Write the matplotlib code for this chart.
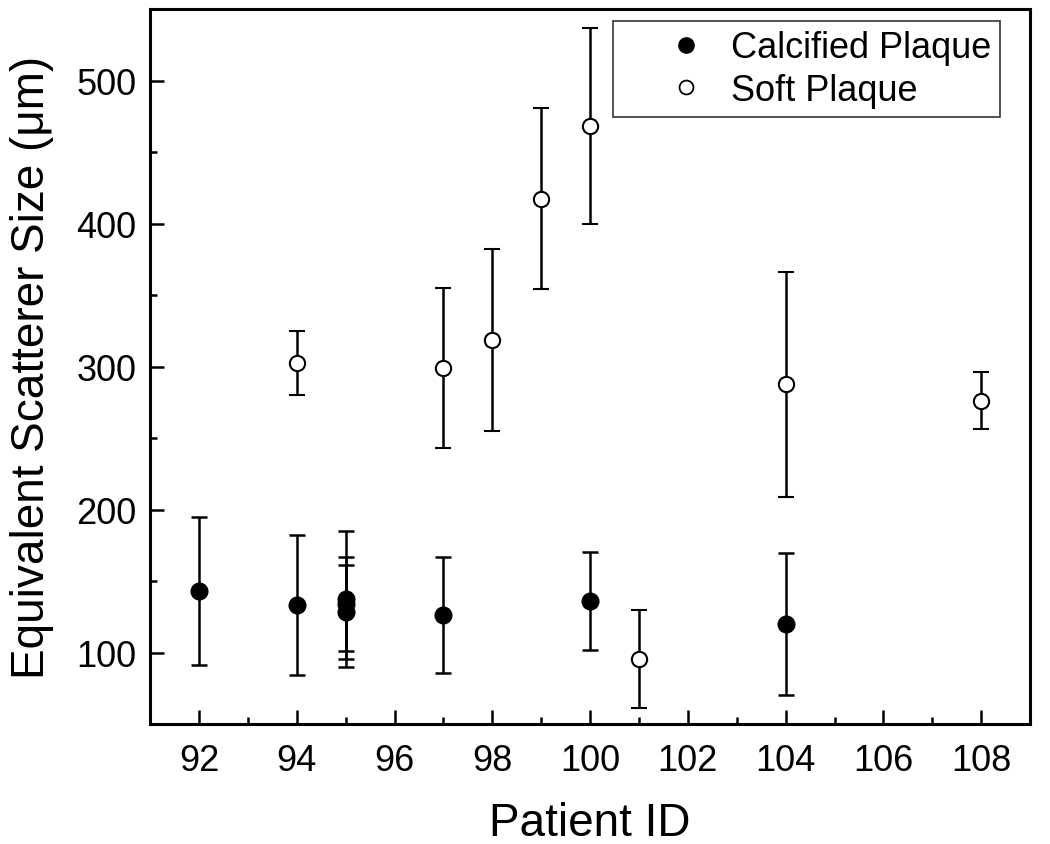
import matplotlib
matplotlib.use("Agg")
import matplotlib.pyplot as plt
from matplotlib.lines import Line2D
from matplotlib.ticker import MultipleLocator

plt.rcParams['font.family'] = ['Liberation Sans', 'DejaVu Sans']

# calcified plaque: patient id, mean size, error
calc_id = [92, 94, 95, 95, 95, 97, 100, 104]
calc_size = [143, 133, 137.5, 134, 128.5, 126.5, 136, 120]
calc_err = [51.5, 49, 47.5, 33, 33, 40.5, 34, 49.5]

# soft plaque
soft_id = [94, 97, 98, 99, 100, 101, 104, 108]
soft_size = [302.5, 299, 318.5, 417.5, 468.5, 95.5, 287.5, 276]
soft_err = [22.5, 56, 63.5, 63.5, 68.5, 34.5, 78.5, 20]

fig = plt.figure(figsize=(10.5, 8.45), dpi=100)
ax = fig.add_axes([0.143, 0.142, 0.838, 0.846])

ax.errorbar(calc_id, calc_size, yerr=calc_err, fmt='o', color='black',
            markersize=12, elinewidth=1.8, capsize=6, capthick=1.8)
ax.errorbar(soft_id, soft_size, yerr=soft_err, fmt='o', color='black',
            markerfacecolor='white', markeredgewidth=1.5, markersize=11,
            elinewidth=1.8, capsize=6, capthick=1.8)

ax.set_xlim(91, 109)
ax.set_ylim(50, 550)
ax.xaxis.set_major_locator(MultipleLocator(2))
ax.xaxis.set_minor_locator(MultipleLocator(1))
ax.yaxis.set_major_locator(MultipleLocator(100))
ax.yaxis.set_minor_locator(MultipleLocator(50))
ax.tick_params(which='both', direction='in', width=1.8, labelsize=26)
ax.tick_params(axis='x', pad=14)
ax.tick_params(axis='y', pad=10)
ax.tick_params(which='major', length=10)
ax.tick_params(which='minor', length=5)
for s in ax.spines.values():
    s.set_linewidth(2.2)

ax.set_xlabel('Patient ID', fontsize=33, labelpad=16)
ax.set_ylabel('Equivalent Scatterer Size (μm)', fontsize=33, labelpad=16)

handles = [
    Line2D([], [], linestyle='none', marker='o', color='black', markersize=11),
    Line2D([], [], linestyle='none', marker='o', color='black',
           markerfacecolor='white', markeredgewidth=1.3, markersize=10),
]
leg = ax.legend(handles, ['Calcified Plaque', 'Soft Plaque'],
                loc='upper right', bbox_to_anchor=(0.966, 0.983),
                borderaxespad=0, fontsize=26, frameon=True, fancybox=False,
                edgecolor='black', handletextpad=-0.5, borderpad=0.25,
                labelspacing=0.2, handlelength=3.5)
leg.get_frame().set_linewidth(1.2)

fig.savefig('out.png', dpi=100)
